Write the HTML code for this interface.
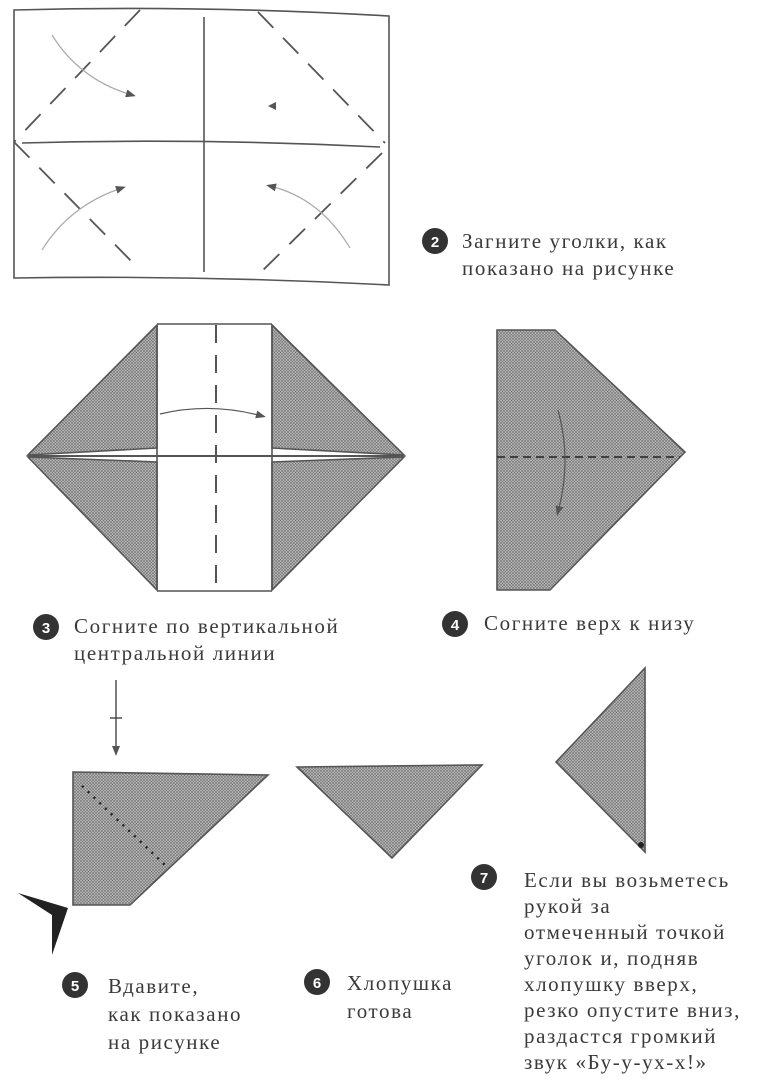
<!DOCTYPE html>
<html><head><meta charset="utf-8"><style>
html,body{margin:0;padding:0;background:#fff}
svg{display:block}
text{font-family:"Liberation Serif",serif;font-size:21px;fill:#3a3a3a;letter-spacing:1.6px}
.n{font-family:"Liberation Sans",sans-serif;font-weight:bold;font-size:15px;fill:#fff;text-anchor:middle;letter-spacing:0}
</style></head><body>
<svg width="768" height="1090" viewBox="0 0 768 1090" xmlns="http://www.w3.org/2000/svg">
<defs>
<pattern id="h" width="3" height="3" patternUnits="userSpaceOnUse">
<rect width="3" height="3" fill="#c4c4c4"/>
<path d="M0,0L3,3M3,0L0,3" stroke="#767676" stroke-width="0.7"/>
</pattern>
<marker id="a" markerWidth="10" markerHeight="10" refX="6" refY="4" orient="auto" markerUnits="userSpaceOnUse"><path d="M0,0L10,4L0,8Z" fill="#555"/></marker>
</defs>
<g fill="none" stroke="#555" stroke-width="1.6">
<path d="M14,10 Q200,5 389,16 L389,285 Q200,275 14,278 Z"/>
<path d="M204,17V272"/>
<path d="M22,143 Q200,138 380,147"/>
<g stroke-dasharray="22,14" stroke-width="1.8">
<path d="M140,10L14,142"/><path d="M258,12L385,143"/><path d="M14,142L140,270"/><path d="M382,153L255,278"/>
</g>
<g stroke="#aaa" stroke-width="1.2">
<path d="M52,35 Q80,80 132,95" marker-end="url(#a)"/>
<path d="M42,250 Q70,205 122,188" marker-end="url(#a)"/>
<path d="M350,248 Q320,198 270,186" marker-end="url(#a)"/>
</g>
<path d="M276,102 l-8,4 8,4z" fill="#555" stroke="none"/>
</g>
<circle cx="435" cy="241" r="13" fill="#333"/><text class="n" x="435" y="247">2</text>
<text x="462" y="248">Загните уголки, как</text>
<text x="462" y="275">показано на рисунке</text>

<g stroke="#555" stroke-width="1.6">
<path d="M28,455L157,325V448L28,455Z" fill="url(#h)"/>
<path d="M28,457L157,462V590L28,457Z" fill="url(#h)"/>
<path d="M272,325L404,455L272,448Z" fill="url(#h)"/>
<path d="M272,462L404,457L272,590Z" fill="url(#h)"/>
<path d="M157,324H272M157,591H272M157,325V590M272,325V590" fill="none"/>
<path d="M28,456 L404,456" stroke-width="2"/>
<path d="M216,325V590" stroke-dasharray="18,12" stroke-width="2" fill="none"/>
<path d="M160,414 Q210,402 262,416" fill="none" stroke-width="1.2" marker-end="url(#a)"/>
</g>
<g stroke="#555" stroke-width="1.6">
<path d="M497,330H555L685,452L550,590H497Z" fill="url(#h)"/>
<path d="M497,457H680" stroke-dasharray="8,5" stroke="#333" stroke-width="1.8"/>
<path d="M558,410 Q572,460 558,512" fill="none" stroke-width="1.2" marker-end="url(#a)"/>
</g>
<circle cx="46" cy="627" r="13" fill="#333"/><text class="n" x="46" y="633">3</text>
<text x="74" y="633">Согните по вертикальной</text>
<text x="74" y="660">центральной линии</text>
<circle cx="455" cy="624" r="13" fill="#333"/><text class="n" x="455" y="630">4</text>
<text x="484" y="630">Согните верх к низу</text>

<g stroke="#444" stroke-width="1.4">
<path d="M116,680V752" marker-end="url(#a)"/><path d="M110,718H122"/>
</g>
<path d="M73,772L268,775L130,905H73Z" fill="url(#h)" stroke="#555" stroke-width="1.6"/>
<path d="M82,786L165,865" stroke="#222" stroke-width="2.5" stroke-dasharray="2,6"/>
<path d="M18,893L68,908L52,955L52,915Z" fill="#222"/>
<path d="M297,767L482,765L392,858Z" fill="url(#h)" stroke="#555" stroke-width="1.6"/>
<path d="M645,668V852L556,762Z" fill="url(#h)" stroke="#555" stroke-width="1.6"/>
<circle cx="641" cy="845" r="3" fill="#222"/>

<circle cx="75" cy="985" r="13" fill="#333"/><text class="n" x="75" y="991">5</text>
<text x="108" y="993">Вдавите,</text>
<text x="108" y="1021">как показано</text>
<text x="108" y="1049">на рисунке</text>
<circle cx="317" cy="982" r="13" fill="#333"/><text class="n" x="317" y="988">6</text>
<text x="347" y="990">Хлопушка</text>
<text x="347" y="1018">готова</text>
<circle cx="484" cy="877" r="13" fill="#333"/><text class="n" x="484" y="883">7</text>
<text x="524" y="887">Если вы возьметесь</text>
<text x="524" y="913">рукой за</text>
<text x="524" y="939">отмеченный точкой</text>
<text x="524" y="965">уголок и, подняв</text>
<text x="524" y="991">хлопушку вверх,</text>
<text x="524" y="1017">резко опустите вниз,</text>
<text x="524" y="1043">раздастся громкий</text>
<text x="524" y="1069">звук «Бу-у-ух-х!»</text>
</svg>
</body></html>
